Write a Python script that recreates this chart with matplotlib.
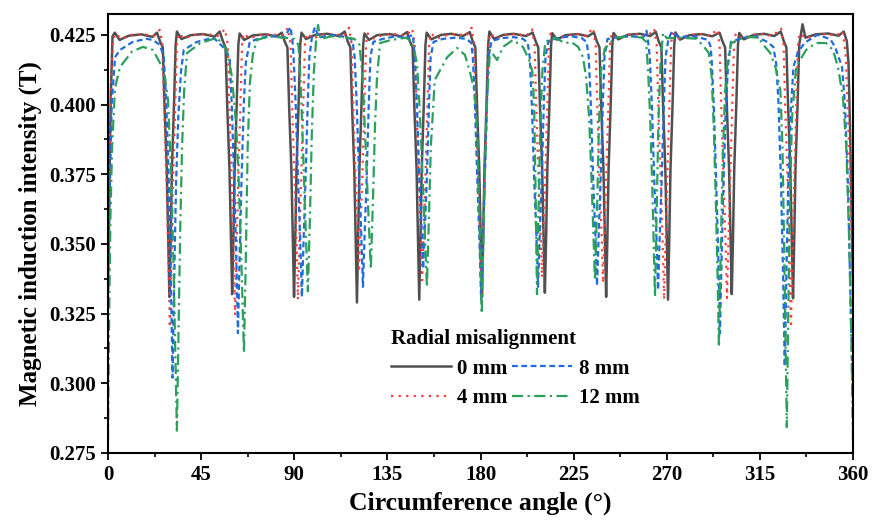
import matplotlib
matplotlib.use("Agg")
import matplotlib.pyplot as plt
from matplotlib.ticker import MultipleLocator

# values, angle in degrees, induction in T
ang_0mm = [0, 0.7, 1.4, 2.2, 3.3, 5.6, 10, 16, 21.5, 23.7, 25.2,
           26.5, 27.3, 28.4, 29.1, 29.7, 30.3, 30.9, 31.9, 32.7, 33.3, 35.5, 40, 46, 51.5, 54, 55.5,
           56.8, 57.6, 58.7, 59.4, 60.0, 60.6, 61.2, 62.2, 63.0, 63.6, 65.8, 70, 76, 81.5, 84, 85.4,
           86.7, 87.5, 88.6, 89.3, 89.9, 90.5, 91.1, 92.1, 92.9, 93.5, 95.7, 100, 106, 111.5, 114.4, 115.8,
           117.1, 117.9, 119.0, 119.7, 120.3, 120.9, 121.5, 122.5, 123.3, 123.9, 126.1, 130, 136, 141.5, 144.5, 145.9,
           147.2, 148.0, 149.1, 149.8, 150.4, 151.0, 151.6, 152.6, 153.4, 154.0, 156.2, 161, 166, 171.5, 174.8, 176.2,
           177.5, 178.3, 179.4, 180.1, 180.7, 181.3, 181.9, 182.9, 183.7, 184.3, 186.5, 191, 196, 202, 205.2, 206.6,
           207.9, 208.7, 209.8, 210.5, 211.1, 211.7, 212.3, 213.3, 214.1, 214.7, 216.9, 221, 227, 232, 234.8, 236.2,
           237.5, 238.3, 239.4, 240.1, 240.7, 241.3, 241.9, 242.9, 243.7, 244.3, 246.5, 251, 257, 262, 264.7, 266.1,
           267.4, 268.2, 269.3, 270.0, 270.6, 271.2, 271.8, 272.8, 273.6, 274.2, 276.4, 281, 287, 292, 295.5, 296.9,
           298.2, 299.0, 300.1, 300.8, 301.4, 302.0, 302.6, 303.6, 304.4, 305.0, 307.2, 312, 317, 322, 325.1, 326.5,
           327.8, 328.6, 329.7, 330.4, 331.0, 331.6, 332.2, 333.2, 334.0, 335.6, 337.0, 342, 348, 353, 355.5, 357.0,
           357.8, 358.6, 359.3, 360]
b_0mm = [0.334, 0.372, 0.404, 0.4245, 0.4258, 0.4232, 0.4247, 0.4252, 0.4243, 0.4258, 0.4226,
         0.4205, 0.400, 0.377, 0.352, 0.331, 0.352, 0.377, 0.400, 0.4215, 0.4262, 0.4235, 0.4249, 0.4253, 0.4244, 0.4262, 0.4228,
         0.4205, 0.400, 0.377, 0.352, 0.332, 0.352, 0.377, 0.400, 0.4215, 0.4255, 0.4232, 0.4248, 0.4252, 0.4245, 0.4258, 0.4226,
         0.4205, 0.400, 0.377, 0.352, 0.331, 0.352, 0.377, 0.400, 0.4215, 0.4258, 0.4235, 0.4250, 0.4254, 0.4246, 0.4262, 0.4227,
         0.4205, 0.400, 0.377, 0.352, 0.329, 0.352, 0.377, 0.400, 0.4215, 0.4255, 0.4232, 0.4249, 0.4253, 0.4245, 0.4260, 0.4226,
         0.4205, 0.400, 0.377, 0.352, 0.330, 0.352, 0.377, 0.400, 0.4215, 0.4258, 0.4234, 0.4250, 0.4254, 0.4246, 0.4260, 0.4228,
         0.4205, 0.400, 0.377, 0.352, 0.331, 0.352, 0.377, 0.400, 0.4215, 0.4262, 0.4236, 0.4250, 0.4254, 0.4246, 0.4258, 0.4228,
         0.4205, 0.400, 0.377, 0.352, 0.3325, 0.352, 0.377, 0.400, 0.4215, 0.4256, 0.4233, 0.4249, 0.4253, 0.4245, 0.4259, 0.4227,
         0.4205, 0.400, 0.377, 0.352, 0.331, 0.352, 0.377, 0.400, 0.4215, 0.4257, 0.4234, 0.4250, 0.4254, 0.4246, 0.4261, 0.4227,
         0.4205, 0.400, 0.377, 0.352, 0.330, 0.352, 0.377, 0.400, 0.4215, 0.4259, 0.4233, 0.4249, 0.4253, 0.4245, 0.4258, 0.4227,
         0.4205, 0.400, 0.377, 0.352, 0.332, 0.352, 0.377, 0.400, 0.4215, 0.4257, 0.4234, 0.4250, 0.4254, 0.4246, 0.4262, 0.4228,
         0.4205, 0.400, 0.377, 0.352, 0.3305, 0.352, 0.377, 0.400, 0.4215, 0.4288, 0.4240, 0.4252, 0.4255, 0.4247, 0.4262, 0.4228,
         0.415, 0.390, 0.360, 0.334]

ang_4mm = [0, 0.8, 1.6, 2.5, 3.6, 6.5, 11, 17, 22, 25.0, 25.9,
           26.3, 27.1, 28.3, 29.2, 29.9, 30.6, 31.4, 32.5, 33.3, 34.1, 37, 42, 48, 53, 56.6, 57.4,
           57.8, 58.6, 59.8, 60.7, 61.4, 62.1, 62.9, 64.0, 64.8, 65.6, 68.5, 73, 79, 84, 87.0, 87.8,
           88.2, 89.0, 90.2, 91.1, 91.8, 92.5, 93.3, 94.4, 95.2, 96.0, 99, 104, 110, 114, 116.5, 117.3,
           117.7, 118.5, 119.7, 120.6, 121.3, 122.0, 122.8, 123.9, 124.7, 125.5, 128.5, 133, 139, 144, 147.0, 147.8,
           148.2, 149.0, 150.2, 151.1, 151.8, 152.5, 153.3, 154.4, 155.2, 156.0, 159, 164, 169, 173, 175.7, 176.5,
           176.9, 177.7, 178.9, 179.8, 180.5, 181.2, 182.0, 183.1, 183.9, 184.7, 187.5, 192, 198, 202, 204.9, 205.7,
           206.1, 206.9, 208.1, 209.0, 209.7, 210.4, 211.2, 212.3, 213.1, 213.9, 217, 222, 227, 231, 234.4, 235.2,
           235.6, 236.4, 237.6, 238.5, 239.2, 239.9, 240.7, 241.8, 242.6, 243.4, 246.5, 251, 257, 261, 263.9, 264.7,
           265.1, 265.9, 267.1, 268.0, 268.7, 269.4, 270.2, 271.3, 272.1, 272.9, 276, 281, 287, 291, 294.3, 295.1,
           295.5, 296.3, 297.5, 298.4, 299.1, 299.8, 300.6, 301.7, 302.5, 303.3, 306.5, 311, 317, 321, 325.2, 326.0,
           326.4, 327.2, 328.4, 329.3, 330.0, 330.7, 331.5, 332.6, 333.4, 334.2, 337.5, 342, 348, 352, 354.6, 355.6,
           356.4, 357.4, 358.6, 359.4, 360]
b_4mm = [0.340, 0.382, 0.410, 0.4235, 0.4255, 0.4236, 0.4250, 0.4253, 0.4246, 0.4268, 0.4232,
         0.422, 0.400, 0.372, 0.346, 0.320, 0.346, 0.372, 0.400, 0.422, 0.4255, 0.4237, 0.4250, 0.4253, 0.4246, 0.4270, 0.4233,
         0.422, 0.400, 0.372, 0.348, 0.3245, 0.348, 0.372, 0.400, 0.422, 0.4255, 0.4237, 0.4250, 0.4253, 0.4246, 0.4275, 0.4233,
         0.422, 0.400, 0.372, 0.351, 0.330, 0.351, 0.372, 0.400, 0.422, 0.4255, 0.4237, 0.4251, 0.4253, 0.4246, 0.4276, 0.4233,
         0.422, 0.400, 0.372, 0.356, 0.340, 0.356, 0.372, 0.400, 0.422, 0.4255, 0.4237, 0.4250, 0.4253, 0.4246, 0.4272, 0.4233,
         0.422, 0.400, 0.372, 0.354, 0.337, 0.354, 0.372, 0.400, 0.422, 0.4255, 0.4237, 0.4250, 0.4253, 0.4246, 0.4276, 0.4233,
         0.422, 0.400, 0.372, 0.351, 0.331, 0.351, 0.372, 0.400, 0.422, 0.4255, 0.4237, 0.4250, 0.4253, 0.4246, 0.4270, 0.4233,
         0.422, 0.400, 0.372, 0.355, 0.338, 0.355, 0.372, 0.400, 0.422, 0.4255, 0.4237, 0.4250, 0.4253, 0.4246, 0.4275, 0.4233,
         0.422, 0.400, 0.372, 0.354, 0.336, 0.354, 0.372, 0.400, 0.422, 0.4255, 0.4237, 0.4250, 0.4253, 0.4246, 0.4272, 0.4233,
         0.422, 0.400, 0.372, 0.351, 0.330, 0.351, 0.372, 0.400, 0.422, 0.4255, 0.4237, 0.4250, 0.4253, 0.4246, 0.4270, 0.4233,
         0.422, 0.400, 0.372, 0.351, 0.3306, 0.351, 0.372, 0.400, 0.422, 0.4255, 0.4237, 0.4250, 0.4253, 0.4246, 0.4273, 0.4233,
         0.422, 0.400, 0.372, 0.346, 0.320, 0.346, 0.372, 0.400, 0.422, 0.4255, 0.4237, 0.4250, 0.4253, 0.4246, 0.4265, 0.4230,
         0.418, 0.400, 0.372, 0.350, 0.332]

ang_8mm = [0, 0.9, 1.8, 3.4, 5.8, 12, 18.5, 21.7, 25.1,
           27.0, 28.2, 29.4, 30.4, 31.2, 32.0, 32.9, 34.0, 35.3, 36.6, 43, 51, 55.5,
           58.8, 59.8, 61.0, 62.0, 62.8, 63.6, 64.5, 65.6, 66.6, 68.5, 74, 80, 85, 88.2, 89.2,
           89.7, 90.7, 91.9, 92.9, 93.7, 94.5, 95.4, 96.5, 97.3, 98.6, 100, 102, 108, 113, 117.5, 118.4,
           119.2, 120.2, 121.4, 122.4, 123.2, 124.0, 124.9, 126.0, 126.8, 128.2, 133, 139, 144, 147.3,
           148.2, 149.3, 150.5, 151.5, 152.3, 153.1, 154.0, 155.1, 155.9, 157.3, 162, 168, 173, 175.5,
           176.3, 177.3, 178.5, 179.5, 180.3, 181.1, 182.0, 183.1, 183.9, 185.3, 190, 196, 200.5, 202.8,
           203.8, 204.8, 206.0, 207.0, 207.8, 208.6, 209.5, 210.6, 211.4, 212.8, 218, 224, 229, 231.3,
           232.3, 233.3, 234.5, 235.5, 236.3, 237.1, 238.0, 239.1, 239.9, 241.3, 247, 253, 258.5, 260.2, 261.0,
           261.8, 262.8, 264.0, 265.0, 265.8, 266.6, 267.5, 268.6, 269.4, 270.8, 272.5, 276, 282, 287, 290.0, 291.2,
           291.7, 292.7, 293.9, 294.9, 295.7, 296.5, 297.4, 298.5, 299.6, 301.0, 307, 313, 318.5, 321.5,
           323.0, 324.0, 325.2, 326.2, 327.0, 327.8, 328.7, 329.8, 331.2, 333.2, 336.5, 342.7, 349, 351.3,
           354.7, 356.1, 357.5, 358.8, 360]
b_8mm = [0.330, 0.370, 0.400, 0.417, 0.4196, 0.4225, 0.4236, 0.4232, 0.4214,
         0.417, 0.400, 0.372, 0.337, 0.302, 0.337, 0.372, 0.396, 0.412, 0.4196, 0.4225, 0.4240, 0.4207,
         0.417, 0.400, 0.372, 0.345, 0.318, 0.345, 0.372, 0.400, 0.415, 0.4225, 0.4240, 0.4245, 0.4240, 0.4278, 0.4225,
         0.417, 0.400, 0.372, 0.351, 0.331, 0.351, 0.372, 0.400, 0.417, 0.4245, 0.4278, 0.4240, 0.4250, 0.4245, 0.4236, 0.4215,
         0.417, 0.400, 0.372, 0.353, 0.3346, 0.353, 0.372, 0.400, 0.417, 0.4225, 0.4236, 0.4245, 0.4240, 0.4250,
         0.4175, 0.400, 0.372, 0.356, 0.341, 0.356, 0.372, 0.400, 0.417, 0.4225, 0.4236, 0.4240, 0.4236, 0.4222,
         0.417, 0.400, 0.372, 0.351, 0.330, 0.351, 0.372, 0.400, 0.417, 0.4228, 0.4238, 0.4242, 0.4236, 0.4222,
         0.417, 0.400, 0.372, 0.353, 0.3346, 0.353, 0.372, 0.400, 0.417, 0.4228, 0.4240, 0.4245, 0.4238, 0.4224,
         0.417, 0.400, 0.372, 0.353, 0.335, 0.353, 0.372, 0.400, 0.417, 0.4235, 0.4243, 0.4245, 0.4240, 0.4265, 0.4225,
         0.417, 0.400, 0.372, 0.353, 0.3335, 0.353, 0.372, 0.400, 0.417, 0.4235, 0.4262, 0.4242, 0.4246, 0.4238, 0.4232, 0.4207,
         0.416, 0.400, 0.372, 0.345, 0.318, 0.345, 0.372, 0.398, 0.414, 0.4225, 0.4240, 0.4245, 0.4225, 0.4207,
         0.414, 0.400, 0.372, 0.339, 0.306, 0.339, 0.372, 0.396, 0.4135, 0.4185, 0.4221, 0.4250, 0.4235, 0.4207,
         0.4135, 0.400, 0.372, 0.330, 0.292]

ang_12mm = [0, 0.5, 1.2, 2.0, 3.4, 5.8, 11.6, 16.9, 21.7, 25.1, 27.5, 29.0,
            30.4, 31.6, 32.5, 33.3, 34.1, 34.9, 35.8, 36.8, 38.2, 44.5, 52.7, 57.5, 59.9,
            62.0, 63.3, 64.6, 65.7, 66.6, 67.5, 68.6, 70.0, 72.0, 78, 85, 90, 92.0,
            93.0, 94.2, 95.4, 96.6, 97.6, 98.5, 99.5, 100.5, 101.5, 102.6, 108, 114, 119, 121.5,
            123.0, 124.2, 125.6, 127.0, 128.0, 129.0, 130.0, 131.5, 137, 144, 147, 149.3,
            150.5, 151.7, 153.0, 154.1, 155.1, 156.0, 157.2, 157.9, 163.9, 168.7, 172.5, 175.0, 177.3,
            178.4, 179.3, 180.0, 180.6, 181.3, 182.1, 183.0, 184.6, 188.0, 190.9, 195.7, 200.5, 203.5, 205.0, 205.9,
            206.6, 207.3, 208.1, 208.9, 209.9, 211.3, 216.1, 220.9, 223.8, 227.2, 229.5, 231.0, 232.5,
            233.8, 235.3, 236.4, 237.2, 238.2, 240, 245, 252, 258, 260.0,
            261.0, 262.0, 263.2, 264.3, 265.2, 266.0, 267.0, 268.2, 270, 277, 284.5, 288.0, 290.3, 291.7,
            292.8, 293.7, 294.5, 295.2, 296.0, 297.0, 298.2, 299.5, 301.2, 308.0, 314.2, 317.5, 320.0, 322.5, 324.9,
            325.9, 326.7, 327.4, 328.0, 328.7, 329.5, 330.5, 332.5, 337.3, 342.1, 346.9, 350.3, 352.7, 355.1,
            356.7, 358.0, 359.2, 360]
b_12mm = [0.279, 0.320, 0.360, 0.385, 0.406, 0.4135, 0.419, 0.4207, 0.4196, 0.415, 0.410, 0.4017,
          0.377, 0.345, 0.312, 0.283, 0.318, 0.355, 0.385, 0.405, 0.4185, 0.422, 0.424, 0.4196, 0.410,
          0.392, 0.370, 0.340, 0.311, 0.345, 0.385, 0.408, 0.418, 0.4232, 0.4245, 0.4240, 0.4236, 0.4215,
          0.410, 0.385, 0.358, 0.333, 0.360, 0.390, 0.412, 0.4225, 0.4286, 0.4235, 0.4245, 0.4242, 0.4236, 0.4215,
          0.410, 0.390, 0.365, 0.341, 0.365, 0.392, 0.410, 0.4221, 0.4232, 0.4240, 0.4225, 0.415,
          0.400, 0.380, 0.355, 0.3346, 0.360, 0.385, 0.400, 0.4088, 0.417, 0.4203, 0.4178, 0.4114, 0.404,
          0.390, 0.365, 0.342, 0.325, 0.348, 0.375, 0.400, 0.4196, 0.416, 0.4207, 0.4232, 0.4207, 0.4160, 0.412, 0.400,
          0.370, 0.332, 0.365, 0.392, 0.412, 0.4225, 0.424, 0.422, 0.4225, 0.4207, 0.417, 0.410, 0.395,
          0.370, 0.337, 0.365, 0.392, 0.412, 0.420, 0.424, 0.4245, 0.4240, 0.4225,
          0.412, 0.395, 0.365, 0.331, 0.365, 0.395, 0.415, 0.4257, 0.4238, 0.4240, 0.4236, 0.4207, 0.4185, 0.410,
          0.390, 0.365, 0.340, 0.313, 0.345, 0.380, 0.405, 0.4165, 0.4221, 0.4243, 0.424, 0.4207, 0.4185, 0.4135, 0.405,
          0.385, 0.350, 0.315, 0.2843, 0.325, 0.365, 0.395, 0.4135, 0.4196, 0.4221, 0.4221, 0.4196, 0.4135, 0.4028,
          0.385, 0.355, 0.315, 0.279]

labels = ["0 mm", "4 mm", "8 mm", "12 mm"]
x_ticks = [0, 45, 90, 135, 180, 225, 270, 315, 360]
y_ticks = [0.275, 0.300, 0.325, 0.350, 0.375, 0.400, 0.425]

plt.rcParams['font.family'] = ['Liberation Serif', 'DejaVu Serif']
plt.rcParams['font.weight'] = 'bold'

fig = plt.figure(figsize=(8.75, 5.26), dpi=100)
ax = fig.add_axes([0.1234, 0.1388, 0.8515, 0.8346])

ax.plot(ang_0mm, b_0mm, color='#505050', lw=1.8, ls='-', label=labels[0])
ax.plot(ang_4mm, b_4mm, color='#ff3b3b', lw=1.6, ls=(0, (1, 2.4)), label=labels[1])
ax.plot(ang_8mm, b_8mm, color='#1f6be0', lw=1.6, ls=(0, (2.6, 1.6)), label=labels[2])
ax.plot(ang_12mm, b_12mm, color='#2aa05c', lw=1.6, ls=(0, (5, 2, 1, 2)), label=labels[3])

ax.set_xlim(0, 360)
ax.set_ylim(0.275, 0.4325)
ax.set_xticks(x_ticks)
ax.set_yticks(y_ticks)
ax.set_yticklabels(['%.3f' % v for v in y_ticks])
ax.xaxis.set_minor_locator(MultipleLocator(22.5))
ax.yaxis.set_minor_locator(MultipleLocator(0.0125))
ax.tick_params(which='major', direction='out', length=5, width=1.3, labelsize=15)
ax.tick_params(which='minor', direction='out', length=3, width=1.2)
for s in ax.spines.values():
    s.set_linewidth(1.5)

ax.set_xlabel('Circumference angle (°)', fontsize=18.5, fontweight='bold', labelpad=5)
ax.set_ylabel('Magnetic induction intensity (T)', fontsize=18, fontweight='bold', labelpad=5)

leg = ax.legend(ncol=2, loc='upper left', bbox_to_anchor=(0.36, 0.315), frameon=False,
                title='Radial misalignment', title_fontproperties={'size': 15, 'weight': 'bold'},
                prop={'size': 15, 'weight': 'bold'}, handlelength=2.9, handletextpad=0.3,
                columnspacing=0.2, labelspacing=0.45, borderpad=0.2, alignment='left')

fig.savefig('out.png', dpi=100)
